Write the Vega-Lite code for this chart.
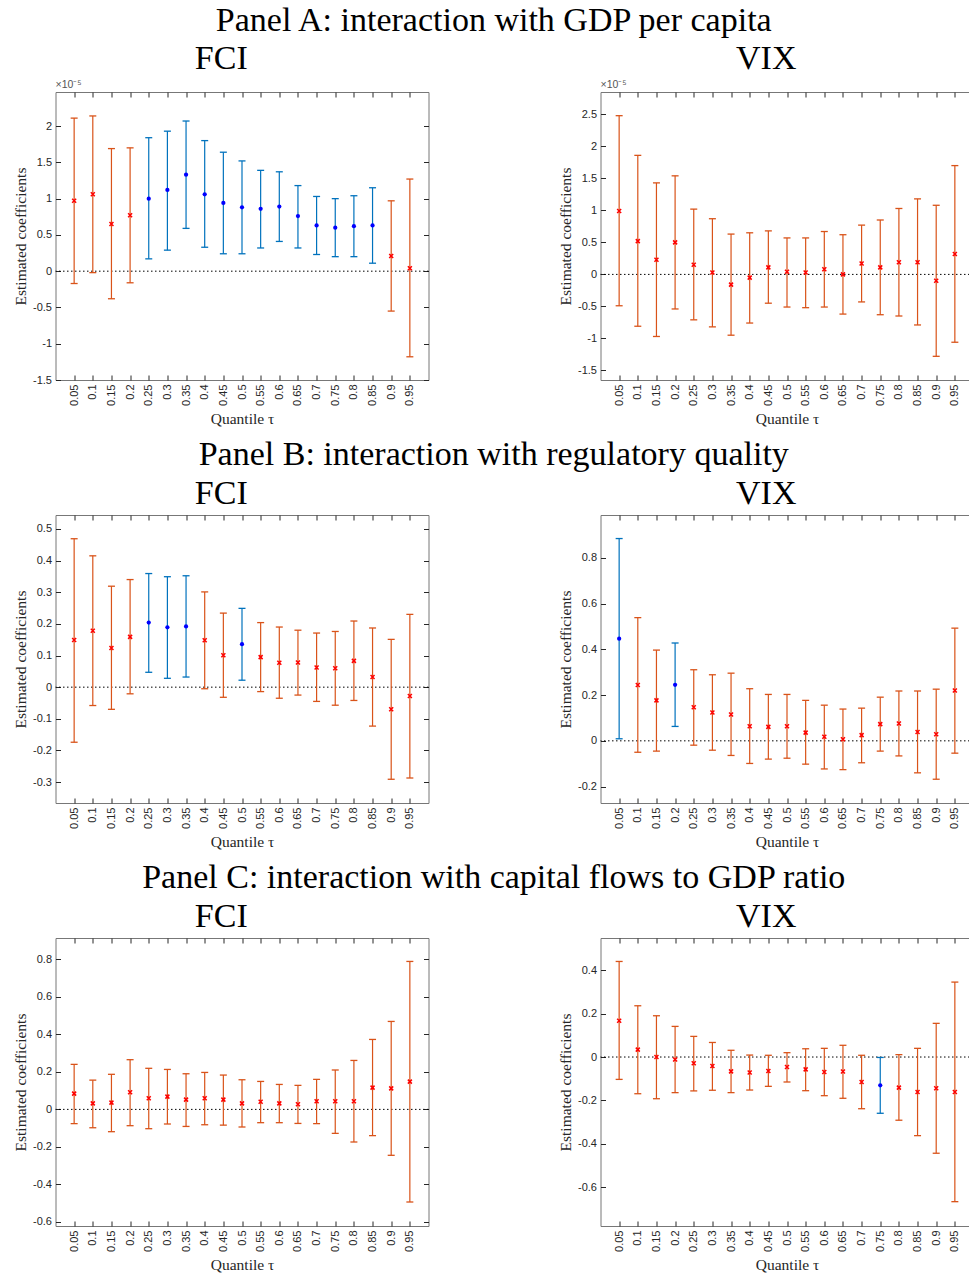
{
"$schema": "https://vega.github.io/schema/vega-lite/v6.json",
"padding": {"left": 12.5, "top": 3, "right": 0, "bottom": 0},
"background": "white",
"config": {
 "font": "Liberation Sans",
 "view": {"stroke": "#777777", "strokeWidth": 1},
 "title": {"font": "Liberation Serif", "fontSize": 34, "fontWeight": "normal", "color": "black", "anchor": "middle", "frame": "bounds", "offset": 4},
 "axis": {"labelFont": "Liberation Sans", "labelFontSize": 11, "labelColor": "#262626", "titleFont": "Liberation Serif", "titleFontSize": 15.5, "titleFontWeight": "normal", "titleColor": "#262626", "tickColor": "#262626", "tickSize": -5, "domain": false, "grid": false, "labelPadding": 9},
 "concat": {"spacing": 10}
},
"datasets": {
 "a_fci": [
  {"q":0.05,"est":0.97,"lo":-0.17,"hi":2.11,"sig":"n"},
  {"q":0.1,"est":1.06,"lo":-0.02,"hi":2.14,"sig":"n"},
  {"q":0.15,"est":0.65,"lo":-0.38,"hi":1.69,"sig":"n"},
  {"q":0.2,"est":0.77,"lo":-0.16,"hi":1.70,"sig":"n"},
  {"q":0.25,"est":1.00,"lo":0.17,"hi":1.84,"sig":"y"},
  {"q":0.3,"est":1.12,"lo":0.29,"hi":1.93,"sig":"y"},
  {"q":0.35,"est":1.33,"lo":0.59,"hi":2.07,"sig":"y"},
  {"q":0.4,"est":1.06,"lo":0.33,"hi":1.80,"sig":"y"},
  {"q":0.45,"est":0.94,"lo":0.24,"hi":1.64,"sig":"y"},
  {"q":0.5,"est":0.88,"lo":0.24,"hi":1.52,"sig":"y"},
  {"q":0.55,"est":0.86,"lo":0.32,"hi":1.39,"sig":"y"},
  {"q":0.6,"est":0.89,"lo":0.41,"hi":1.37,"sig":"y"},
  {"q":0.65,"est":0.76,"lo":0.32,"hi":1.18,"sig":"y"},
  {"q":0.7,"est":0.63,"lo":0.23,"hi":1.03,"sig":"y"},
  {"q":0.75,"est":0.60,"lo":0.20,"hi":1.00,"sig":"y"},
  {"q":0.8,"est":0.62,"lo":0.20,"hi":1.04,"sig":"y"},
  {"q":0.85,"est":0.63,"lo":0.11,"hi":1.15,"sig":"y"},
  {"q":0.9,"est":0.21,"lo":-0.55,"hi":0.97,"sig":"n"},
  {"q":0.95,"est":0.04,"lo":-1.18,"hi":1.27,"sig":"n"}
 ],
 "a_vix": [
  {"q":0.05,"est":0.99,"lo":-0.49,"hi":2.48,"sig":"n"},
  {"q":0.1,"est":0.52,"lo":-0.81,"hi":1.86,"sig":"n"},
  {"q":0.15,"est":0.23,"lo":-0.97,"hi":1.43,"sig":"n"},
  {"q":0.2,"est":0.50,"lo":-0.54,"hi":1.54,"sig":"n"},
  {"q":0.25,"est":0.15,"lo":-0.71,"hi":1.02,"sig":"n"},
  {"q":0.3,"est":0.03,"lo":-0.82,"hi":0.87,"sig":"n"},
  {"q":0.35,"est":-0.16,"lo":-0.95,"hi":0.63,"sig":"n"},
  {"q":0.4,"est":-0.05,"lo":-0.76,"hi":0.65,"sig":"n"},
  {"q":0.45,"est":0.11,"lo":-0.45,"hi":0.68,"sig":"n"},
  {"q":0.5,"est":0.04,"lo":-0.51,"hi":0.57,"sig":"n"},
  {"q":0.55,"est":0.03,"lo":-0.52,"hi":0.57,"sig":"n"},
  {"q":0.6,"est":0.08,"lo":-0.51,"hi":0.67,"sig":"n"},
  {"q":0.65,"est":0.00,"lo":-0.62,"hi":0.62,"sig":"n"},
  {"q":0.7,"est":0.17,"lo":-0.43,"hi":0.77,"sig":"n"},
  {"q":0.75,"est":0.11,"lo":-0.63,"hi":0.85,"sig":"n"},
  {"q":0.8,"est":0.19,"lo":-0.65,"hi":1.03,"sig":"n"},
  {"q":0.85,"est":0.19,"lo":-0.79,"hi":1.18,"sig":"n"},
  {"q":0.9,"est":-0.10,"lo":-1.28,"hi":1.08,"sig":"n"},
  {"q":0.95,"est":0.32,"lo":-1.06,"hi":1.70,"sig":"n"}
 ],
 "b_fci": [
  {"q":0.05,"est":0.149,"lo":-0.174,"hi":0.469,"sig":"n"},
  {"q":0.1,"est":0.178,"lo":-0.058,"hi":0.415,"sig":"n"},
  {"q":0.15,"est":0.124,"lo":-0.070,"hi":0.319,"sig":"n"},
  {"q":0.2,"est":0.159,"lo":-0.021,"hi":0.340,"sig":"n"},
  {"q":0.25,"est":0.204,"lo":0.047,"hi":0.359,"sig":"y"},
  {"q":0.3,"est":0.189,"lo":0.028,"hi":0.349,"sig":"y"},
  {"q":0.35,"est":0.192,"lo":0.032,"hi":0.352,"sig":"y"},
  {"q":0.4,"est":0.148,"lo":-0.005,"hi":0.301,"sig":"n"},
  {"q":0.45,"est":0.101,"lo":-0.032,"hi":0.234,"sig":"n"},
  {"q":0.5,"est":0.136,"lo":0.022,"hi":0.249,"sig":"y"},
  {"q":0.55,"est":0.095,"lo":-0.014,"hi":0.204,"sig":"n"},
  {"q":0.6,"est":0.077,"lo":-0.035,"hi":0.190,"sig":"n"},
  {"q":0.65,"est":0.078,"lo":-0.025,"hi":0.180,"sig":"n"},
  {"q":0.7,"est":0.062,"lo":-0.045,"hi":0.171,"sig":"n"},
  {"q":0.75,"est":0.060,"lo":-0.057,"hi":0.176,"sig":"n"},
  {"q":0.8,"est":0.083,"lo":-0.042,"hi":0.209,"sig":"n"},
  {"q":0.85,"est":0.032,"lo":-0.123,"hi":0.187,"sig":"n"},
  {"q":0.9,"est":-0.070,"lo":-0.291,"hi":0.151,"sig":"n"},
  {"q":0.95,"est":-0.028,"lo":-0.287,"hi":0.230,"sig":"n"}
 ],
 "b_vix": [
  {"q":0.05,"est":0.447,"lo":0.009,"hi":0.885,"sig":"y"},
  {"q":0.1,"est":0.244,"lo":-0.050,"hi":0.539,"sig":"n"},
  {"q":0.15,"est":0.177,"lo":-0.045,"hi":0.397,"sig":"n"},
  {"q":0.2,"est":0.245,"lo":0.063,"hi":0.428,"sig":"y"},
  {"q":0.25,"est":0.147,"lo":-0.019,"hi":0.311,"sig":"n"},
  {"q":0.3,"est":0.124,"lo":-0.041,"hi":0.289,"sig":"n"},
  {"q":0.35,"est":0.115,"lo":-0.064,"hi":0.296,"sig":"n"},
  {"q":0.4,"est":0.064,"lo":-0.099,"hi":0.228,"sig":"n"},
  {"q":0.45,"est":0.061,"lo":-0.080,"hi":0.203,"sig":"n"},
  {"q":0.5,"est":0.064,"lo":-0.076,"hi":0.203,"sig":"n"},
  {"q":0.55,"est":0.036,"lo":-0.102,"hi":0.177,"sig":"n"},
  {"q":0.6,"est":0.018,"lo":-0.123,"hi":0.156,"sig":"n"},
  {"q":0.65,"est":0.007,"lo":-0.126,"hi":0.139,"sig":"n"},
  {"q":0.7,"est":0.025,"lo":-0.096,"hi":0.143,"sig":"n"},
  {"q":0.75,"est":0.073,"lo":-0.045,"hi":0.191,"sig":"n"},
  {"q":0.8,"est":0.076,"lo":-0.066,"hi":0.218,"sig":"n"},
  {"q":0.85,"est":0.039,"lo":-0.140,"hi":0.218,"sig":"n"},
  {"q":0.9,"est":0.029,"lo":-0.168,"hi":0.226,"sig":"n"},
  {"q":0.95,"est":0.220,"lo":-0.054,"hi":0.493,"sig":"n"}
 ],
 "c_fci": [
  {"q":0.05,"est":0.084,"lo":-0.076,"hi":0.240,"sig":"n"},
  {"q":0.1,"est":0.032,"lo":-0.098,"hi":0.156,"sig":"n"},
  {"q":0.15,"est":0.036,"lo":-0.119,"hi":0.187,"sig":"n"},
  {"q":0.2,"est":0.091,"lo":-0.087,"hi":0.265,"sig":"n"},
  {"q":0.25,"est":0.059,"lo":-0.103,"hi":0.219,"sig":"n"},
  {"q":0.3,"est":0.068,"lo":-0.078,"hi":0.213,"sig":"n"},
  {"q":0.35,"est":0.052,"lo":-0.091,"hi":0.190,"sig":"n"},
  {"q":0.4,"est":0.059,"lo":-0.082,"hi":0.197,"sig":"n"},
  {"q":0.45,"est":0.052,"lo":-0.084,"hi":0.183,"sig":"n"},
  {"q":0.5,"est":0.032,"lo":-0.094,"hi":0.158,"sig":"n"},
  {"q":0.55,"est":0.041,"lo":-0.071,"hi":0.149,"sig":"n"},
  {"q":0.6,"est":0.032,"lo":-0.071,"hi":0.133,"sig":"n"},
  {"q":0.65,"est":0.027,"lo":-0.075,"hi":0.128,"sig":"n"},
  {"q":0.7,"est":0.043,"lo":-0.076,"hi":0.160,"sig":"n"},
  {"q":0.75,"est":0.043,"lo":-0.128,"hi":0.210,"sig":"n"},
  {"q":0.8,"est":0.043,"lo":-0.174,"hi":0.261,"sig":"n"},
  {"q":0.85,"est":0.116,"lo":-0.140,"hi":0.373,"sig":"n"},
  {"q":0.9,"est":0.112,"lo":-0.245,"hi":0.469,"sig":"n"},
  {"q":0.95,"est":0.148,"lo":-0.494,"hi":0.789,"sig":"n"}
 ],
 "c_vix": [
  {"q":0.05,"est":0.167,"lo":-0.103,"hi":0.440,"sig":"n"},
  {"q":0.1,"est":0.034,"lo":-0.169,"hi":0.236,"sig":"n"},
  {"q":0.15,"est":0.000,"lo":-0.192,"hi":0.190,"sig":"n"},
  {"q":0.2,"est":-0.011,"lo":-0.164,"hi":0.141,"sig":"n"},
  {"q":0.25,"est":-0.029,"lo":-0.156,"hi":0.095,"sig":"n"},
  {"q":0.3,"est":-0.041,"lo":-0.153,"hi":0.067,"sig":"n"},
  {"q":0.35,"est":-0.066,"lo":-0.164,"hi":0.031,"sig":"n"},
  {"q":0.4,"est":-0.071,"lo":-0.152,"hi":0.009,"sig":"n"},
  {"q":0.45,"est":-0.064,"lo":-0.135,"hi":0.008,"sig":"n"},
  {"q":0.5,"est":-0.046,"lo":-0.115,"hi":0.020,"sig":"n"},
  {"q":0.55,"est":-0.057,"lo":-0.155,"hi":0.038,"sig":"n"},
  {"q":0.6,"est":-0.069,"lo":-0.178,"hi":0.040,"sig":"n"},
  {"q":0.65,"est":-0.067,"lo":-0.190,"hi":0.054,"sig":"n"},
  {"q":0.7,"est":-0.115,"lo":-0.238,"hi":0.008,"sig":"n"},
  {"q":0.75,"est":-0.130,"lo":-0.259,"hi":-0.002,"sig":"y"},
  {"q":0.8,"est":-0.141,"lo":-0.291,"hi":0.011,"sig":"n"},
  {"q":0.85,"est":-0.161,"lo":-0.362,"hi":0.040,"sig":"n"},
  {"q":0.9,"est":-0.144,"lo":-0.443,"hi":0.155,"sig":"n"},
  {"q":0.95,"est":-0.161,"lo":-0.666,"hi":0.345,"sig":"n"}
 ]
},
"vconcat": [
 {"title": {"text": "Panel A: interaction with GDP per capita"},
  "hconcat": [
   {"title": {"text": "FCI"}, "width": 373, "height": 288, "data": {"name": "a_fci"},
    "resolve": {"axis": {"x": "independent", "y": "independent"}},
    "layer": [
     {"data": {"values": [{"z": 0}]}, "mark": {"type": "rule", "color": "#000000", "strokeWidth": 1, "strokeDash": [1.5, 2.5]},
      "encoding": {"y": {"field": "z", "type": "quantitative", "scale": {"domain": [-1.5, 2.47], "nice": false, "zero": false}, "axis": null}}},
     {"mark": {"type": "rule", "strokeWidth": 1.2},
      "encoding": {"x": {"field": "q", "type": "quantitative", "scale": {"domain": [0, 1], "nice": false}, "axis": {"values": [0.05,0.1,0.15,0.2,0.25,0.3,0.35,0.4,0.45,0.5,0.55,0.6,0.65,0.7,0.75,0.8,0.85,0.9,0.95], "labelAngle": 270, "labelPadding": 9, "labelExpr": "format(datum.value, '~g')", "title": "Quantile τ", "titlePadding": 6}},
       "y": {"field": "lo", "type": "quantitative", "scale": {"domain": [-1.5, 2.47], "nice": false, "zero": false}, "axis": {"values": [-1.5,-1,-0.5,0,0.5,1,1.5,2], "labelExpr": "replace(format(datum.value, '~g'), '\u2212', '-')", "title": "Estimated coefficients"}},
       "y2": {"field": "hi"},
       "color": {"condition": {"test": "datum.sig === 'y'", "value": "#0072BD"}, "value": "#D95319"}}},
     {"mark": {"type": "tick", "orient": "horizontal", "size": 7, "thickness": 1.3, "opacity": 1},
      "encoding": {"x": {"field": "q", "type": "quantitative", "scale": {"domain": [0, 1], "nice": false}, "axis": null},
       "y": {"field": "lo", "type": "quantitative", "scale": {"domain": [-1.5, 2.47], "nice": false, "zero": false}, "axis": null},
       "color": {"condition": {"test": "datum.sig === 'y'", "value": "#0072BD"}, "value": "#D95319"}}},
     {"mark": {"type": "tick", "orient": "horizontal", "size": 7, "thickness": 1.3, "opacity": 1},
      "encoding": {"x": {"field": "q", "type": "quantitative", "scale": {"domain": [0, 1], "nice": false}, "axis": {"orient": "top", "values": [0.05,0.1,0.15,0.2,0.25,0.3,0.35,0.4,0.45,0.5,0.55,0.6,0.65,0.7,0.75,0.8,0.85,0.9,0.95], "labels": false, "title": null}},
       "y": {"field": "hi", "type": "quantitative", "scale": {"domain": [-1.5, 2.47], "nice": false, "zero": false}, "axis": {"orient": "right", "values": [-1.5,-1,-0.5,0,0.5,1,1.5,2], "labels": false, "title": null}},
       "color": {"condition": {"test": "datum.sig === 'y'", "value": "#0072BD"}, "value": "#D95319"}}},
     {"transform": [{"filter": "datum.sig === 'n'"}],
      "mark": {"type": "point", "shape": "M-1,-1L1,1M-1,1L1,-1", "size": 16, "filled": false, "stroke": "#FF0000", "strokeWidth": 1.5, "opacity": 1},
      "encoding": {"x": {"field": "q", "type": "quantitative", "scale": {"domain": [0, 1], "nice": false}, "axis": null},
       "y": {"field": "est", "type": "quantitative", "scale": {"domain": [-1.5, 2.47], "nice": false, "zero": false}, "axis": null}}},
     {"transform": [{"filter": "datum.sig === 'y'"}],
      "mark": {"type": "circle", "size": 18, "color": "#0000FF", "opacity": 1},
      "encoding": {"x": {"field": "q", "type": "quantitative", "scale": {"domain": [0, 1], "nice": false}, "axis": null},
       "y": {"field": "est", "type": "quantitative", "scale": {"domain": [-1.5, 2.47], "nice": false, "zero": false}, "axis": null}}},
     {"data": {"values": [{"t": "×10⁻⁵"}]},
      "mark": {"type": "text", "align": "left", "baseline": "bottom", "dy": -2, "fontSize": 10.5, "color": "#555555", "font": "Liberation Sans"},
      "encoding": {"x": {"datum": 0, "type": "quantitative", "scale": {"domain": [0, 1], "nice": false}, "axis": null},
       "y": {"datum": 2.47, "type": "quantitative", "scale": {"domain": [-1.5, 2.47], "nice": false, "zero": false}, "axis": null},
       "text": {"field": "t"}}}
    ]},
   {"title": {"text": "VIX"}, "width": 373, "height": 288, "data": {"name": "a_vix"},
    "resolve": {"axis": {"x": "independent", "y": "independent"}},
    "layer": [
     {"data": {"values": [{"z": 0}]}, "mark": {"type": "rule", "color": "#000000", "strokeWidth": 1, "strokeDash": [1.5, 2.5]},
      "encoding": {"y": {"field": "z", "type": "quantitative", "scale": {"domain": [-1.65, 2.85], "nice": false, "zero": false}, "axis": null}}},
     {"mark": {"type": "rule", "strokeWidth": 1.2},
      "encoding": {"x": {"field": "q", "type": "quantitative", "scale": {"domain": [0, 1], "nice": false}, "axis": {"values": [0.05,0.1,0.15,0.2,0.25,0.3,0.35,0.4,0.45,0.5,0.55,0.6,0.65,0.7,0.75,0.8,0.85,0.9,0.95], "labelAngle": 270, "labelPadding": 9, "labelExpr": "format(datum.value, '~g')", "title": "Quantile τ", "titlePadding": 6}},
       "y": {"field": "lo", "type": "quantitative", "scale": {"domain": [-1.65, 2.85], "nice": false, "zero": false}, "axis": {"values": [-1.5,-1,-0.5,0,0.5,1,1.5,2,2.5], "labelExpr": "replace(format(datum.value, '~g'), '\u2212', '-')", "title": "Estimated coefficients"}},
       "y2": {"field": "hi"},
       "color": {"condition": {"test": "datum.sig === 'y'", "value": "#0072BD"}, "value": "#D95319"}}},
     {"mark": {"type": "tick", "orient": "horizontal", "size": 7, "thickness": 1.3, "opacity": 1},
      "encoding": {"x": {"field": "q", "type": "quantitative", "scale": {"domain": [0, 1], "nice": false}, "axis": null},
       "y": {"field": "lo", "type": "quantitative", "scale": {"domain": [-1.65, 2.85], "nice": false, "zero": false}, "axis": null},
       "color": {"condition": {"test": "datum.sig === 'y'", "value": "#0072BD"}, "value": "#D95319"}}},
     {"mark": {"type": "tick", "orient": "horizontal", "size": 7, "thickness": 1.3, "opacity": 1},
      "encoding": {"x": {"field": "q", "type": "quantitative", "scale": {"domain": [0, 1], "nice": false}, "axis": {"orient": "top", "values": [0.05,0.1,0.15,0.2,0.25,0.3,0.35,0.4,0.45,0.5,0.55,0.6,0.65,0.7,0.75,0.8,0.85,0.9,0.95], "labels": false, "title": null}},
       "y": {"field": "hi", "type": "quantitative", "scale": {"domain": [-1.65, 2.85], "nice": false, "zero": false}, "axis": {"orient": "right", "values": [-1.5,-1,-0.5,0,0.5,1,1.5,2,2.5], "labels": false, "title": null}},
       "color": {"condition": {"test": "datum.sig === 'y'", "value": "#0072BD"}, "value": "#D95319"}}},
     {"transform": [{"filter": "datum.sig === 'n'"}],
      "mark": {"type": "point", "shape": "M-1,-1L1,1M-1,1L1,-1", "size": 16, "filled": false, "stroke": "#FF0000", "strokeWidth": 1.5, "opacity": 1},
      "encoding": {"x": {"field": "q", "type": "quantitative", "scale": {"domain": [0, 1], "nice": false}, "axis": null},
       "y": {"field": "est", "type": "quantitative", "scale": {"domain": [-1.65, 2.85], "nice": false, "zero": false}, "axis": null}}},
     {"transform": [{"filter": "datum.sig === 'y'"}],
      "mark": {"type": "circle", "size": 18, "color": "#0000FF", "opacity": 1},
      "encoding": {"x": {"field": "q", "type": "quantitative", "scale": {"domain": [0, 1], "nice": false}, "axis": null},
       "y": {"field": "est", "type": "quantitative", "scale": {"domain": [-1.65, 2.85], "nice": false, "zero": false}, "axis": null}}},
     {"data": {"values": [{"t": "×10⁻⁵"}]},
      "mark": {"type": "text", "align": "left", "baseline": "bottom", "dy": -2, "fontSize": 10.5, "color": "#555555", "font": "Liberation Sans"},
      "encoding": {"x": {"datum": 0, "type": "quantitative", "scale": {"domain": [0, 1], "nice": false}, "axis": null},
       "y": {"datum": 2.85, "type": "quantitative", "scale": {"domain": [-1.65, 2.85], "nice": false, "zero": false}, "axis": null},
       "text": {"field": "t"}}}
    ]}
  ], "spacing": 128},
 {"title": {"text": "Panel B: interaction with regulatory quality"},
  "hconcat": [
   {"title": {"text": "FCI"}, "width": 373, "height": 288, "data": {"name": "b_fci"},
    "resolve": {"axis": {"x": "independent", "y": "independent"}},
    "layer": [
     {"data": {"values": [{"z": 0}]}, "mark": {"type": "rule", "color": "#000000", "strokeWidth": 1, "strokeDash": [1.5, 2.5]},
      "encoding": {"y": {"field": "z", "type": "quantitative", "scale": {"domain": [-0.366, 0.544], "nice": false, "zero": false}, "axis": null}}},
     {"mark": {"type": "rule", "strokeWidth": 1.2},
      "encoding": {"x": {"field": "q", "type": "quantitative", "scale": {"domain": [0, 1], "nice": false}, "axis": {"values": [0.05,0.1,0.15,0.2,0.25,0.3,0.35,0.4,0.45,0.5,0.55,0.6,0.65,0.7,0.75,0.8,0.85,0.9,0.95], "labelAngle": 270, "labelPadding": 9, "labelExpr": "format(datum.value, '~g')", "title": "Quantile τ", "titlePadding": 6}},
       "y": {"field": "lo", "type": "quantitative", "scale": {"domain": [-0.366, 0.544], "nice": false, "zero": false}, "axis": {"values": [-0.3,-0.2,-0.1,0,0.1,0.2,0.3,0.4,0.5], "labelExpr": "replace(format(datum.value, '~g'), '\u2212', '-')", "title": "Estimated coefficients"}},
       "y2": {"field": "hi"},
       "color": {"condition": {"test": "datum.sig === 'y'", "value": "#0072BD"}, "value": "#D95319"}}},
     {"mark": {"type": "tick", "orient": "horizontal", "size": 7, "thickness": 1.3, "opacity": 1},
      "encoding": {"x": {"field": "q", "type": "quantitative", "scale": {"domain": [0, 1], "nice": false}, "axis": null},
       "y": {"field": "lo", "type": "quantitative", "scale": {"domain": [-0.366, 0.544], "nice": false, "zero": false}, "axis": null},
       "color": {"condition": {"test": "datum.sig === 'y'", "value": "#0072BD"}, "value": "#D95319"}}},
     {"mark": {"type": "tick", "orient": "horizontal", "size": 7, "thickness": 1.3, "opacity": 1},
      "encoding": {"x": {"field": "q", "type": "quantitative", "scale": {"domain": [0, 1], "nice": false}, "axis": {"orient": "top", "values": [0.05,0.1,0.15,0.2,0.25,0.3,0.35,0.4,0.45,0.5,0.55,0.6,0.65,0.7,0.75,0.8,0.85,0.9,0.95], "labels": false, "title": null}},
       "y": {"field": "hi", "type": "quantitative", "scale": {"domain": [-0.366, 0.544], "nice": false, "zero": false}, "axis": {"orient": "right", "values": [-0.3,-0.2,-0.1,0,0.1,0.2,0.3,0.4,0.5], "labels": false, "title": null}},
       "color": {"condition": {"test": "datum.sig === 'y'", "value": "#0072BD"}, "value": "#D95319"}}},
     {"transform": [{"filter": "datum.sig === 'n'"}],
      "mark": {"type": "point", "shape": "M-1,-1L1,1M-1,1L1,-1", "size": 16, "filled": false, "stroke": "#FF0000", "strokeWidth": 1.5, "opacity": 1},
      "encoding": {"x": {"field": "q", "type": "quantitative", "scale": {"domain": [0, 1], "nice": false}, "axis": null},
       "y": {"field": "est", "type": "quantitative", "scale": {"domain": [-0.366, 0.544], "nice": false, "zero": false}, "axis": null}}},
     {"transform": [{"filter": "datum.sig === 'y'"}],
      "mark": {"type": "circle", "size": 18, "color": "#0000FF", "opacity": 1},
      "encoding": {"x": {"field": "q", "type": "quantitative", "scale": {"domain": [0, 1], "nice": false}, "axis": null},
       "y": {"field": "est", "type": "quantitative", "scale": {"domain": [-0.366, 0.544], "nice": false, "zero": false}, "axis": null}}}
    ]},
   {"title": {"text": "VIX"}, "width": 373, "height": 288, "data": {"name": "b_vix"},
    "resolve": {"axis": {"x": "independent", "y": "independent"}},
    "layer": [
     {"data": {"values": [{"z": 0}]}, "mark": {"type": "rule", "color": "#000000", "strokeWidth": 1, "strokeDash": [1.5, 2.5]},
      "encoding": {"y": {"field": "z", "type": "quantitative", "scale": {"domain": [-0.272, 0.988], "nice": false, "zero": false}, "axis": null}}},
     {"mark": {"type": "rule", "strokeWidth": 1.2},
      "encoding": {"x": {"field": "q", "type": "quantitative", "scale": {"domain": [0, 1], "nice": false}, "axis": {"values": [0.05,0.1,0.15,0.2,0.25,0.3,0.35,0.4,0.45,0.5,0.55,0.6,0.65,0.7,0.75,0.8,0.85,0.9,0.95], "labelAngle": 270, "labelPadding": 9, "labelExpr": "format(datum.value, '~g')", "title": "Quantile τ", "titlePadding": 6}},
       "y": {"field": "lo", "type": "quantitative", "scale": {"domain": [-0.272, 0.988], "nice": false, "zero": false}, "axis": {"values": [-0.2,0,0.2,0.4,0.6,0.8], "labelExpr": "replace(format(datum.value, '~g'), '\u2212', '-')", "title": "Estimated coefficients"}},
       "y2": {"field": "hi"},
       "color": {"condition": {"test": "datum.sig === 'y'", "value": "#0072BD"}, "value": "#D95319"}}},
     {"mark": {"type": "tick", "orient": "horizontal", "size": 7, "thickness": 1.3, "opacity": 1},
      "encoding": {"x": {"field": "q", "type": "quantitative", "scale": {"domain": [0, 1], "nice": false}, "axis": null},
       "y": {"field": "lo", "type": "quantitative", "scale": {"domain": [-0.272, 0.988], "nice": false, "zero": false}, "axis": null},
       "color": {"condition": {"test": "datum.sig === 'y'", "value": "#0072BD"}, "value": "#D95319"}}},
     {"mark": {"type": "tick", "orient": "horizontal", "size": 7, "thickness": 1.3, "opacity": 1},
      "encoding": {"x": {"field": "q", "type": "quantitative", "scale": {"domain": [0, 1], "nice": false}, "axis": {"orient": "top", "values": [0.05,0.1,0.15,0.2,0.25,0.3,0.35,0.4,0.45,0.5,0.55,0.6,0.65,0.7,0.75,0.8,0.85,0.9,0.95], "labels": false, "title": null}},
       "y": {"field": "hi", "type": "quantitative", "scale": {"domain": [-0.272, 0.988], "nice": false, "zero": false}, "axis": {"orient": "right", "values": [-0.2,0,0.2,0.4,0.6,0.8], "labels": false, "title": null}},
       "color": {"condition": {"test": "datum.sig === 'y'", "value": "#0072BD"}, "value": "#D95319"}}},
     {"transform": [{"filter": "datum.sig === 'n'"}],
      "mark": {"type": "point", "shape": "M-1,-1L1,1M-1,1L1,-1", "size": 16, "filled": false, "stroke": "#FF0000", "strokeWidth": 1.5, "opacity": 1},
      "encoding": {"x": {"field": "q", "type": "quantitative", "scale": {"domain": [0, 1], "nice": false}, "axis": null},
       "y": {"field": "est", "type": "quantitative", "scale": {"domain": [-0.272, 0.988], "nice": false, "zero": false}, "axis": null}}},
     {"transform": [{"filter": "datum.sig === 'y'"}],
      "mark": {"type": "circle", "size": 18, "color": "#0000FF", "opacity": 1},
      "encoding": {"x": {"field": "q", "type": "quantitative", "scale": {"domain": [0, 1], "nice": false}, "axis": null},
       "y": {"field": "est", "type": "quantitative", "scale": {"domain": [-0.272, 0.988], "nice": false, "zero": false}, "axis": null}}}
    ]}
  ], "spacing": 128},
 {"title": {"text": "Panel C: interaction with capital flows to GDP ratio"},
  "hconcat": [
   {"title": {"text": "FCI"}, "width": 373, "height": 288, "data": {"name": "c_fci"},
    "resolve": {"axis": {"x": "independent", "y": "independent"}},
    "layer": [
     {"data": {"values": [{"z": 0}]}, "mark": {"type": "rule", "color": "#000000", "strokeWidth": 1, "strokeDash": [1.5, 2.5]},
      "encoding": {"y": {"field": "z", "type": "quantitative", "scale": {"domain": [-0.622, 0.914], "nice": false, "zero": false}, "axis": null}}},
     {"mark": {"type": "rule", "strokeWidth": 1.2},
      "encoding": {"x": {"field": "q", "type": "quantitative", "scale": {"domain": [0, 1], "nice": false}, "axis": {"values": [0.05,0.1,0.15,0.2,0.25,0.3,0.35,0.4,0.45,0.5,0.55,0.6,0.65,0.7,0.75,0.8,0.85,0.9,0.95], "labelAngle": 270, "labelPadding": 9, "labelExpr": "format(datum.value, '~g')", "title": "Quantile τ", "titlePadding": 6}},
       "y": {"field": "lo", "type": "quantitative", "scale": {"domain": [-0.622, 0.914], "nice": false, "zero": false}, "axis": {"values": [-0.6,-0.4,-0.2,0,0.2,0.4,0.6,0.8], "labelExpr": "replace(format(datum.value, '~g'), '\u2212', '-')", "title": "Estimated coefficients"}},
       "y2": {"field": "hi"},
       "color": {"condition": {"test": "datum.sig === 'y'", "value": "#0072BD"}, "value": "#D95319"}}},
     {"mark": {"type": "tick", "orient": "horizontal", "size": 7, "thickness": 1.3, "opacity": 1},
      "encoding": {"x": {"field": "q", "type": "quantitative", "scale": {"domain": [0, 1], "nice": false}, "axis": null},
       "y": {"field": "lo", "type": "quantitative", "scale": {"domain": [-0.622, 0.914], "nice": false, "zero": false}, "axis": null},
       "color": {"condition": {"test": "datum.sig === 'y'", "value": "#0072BD"}, "value": "#D95319"}}},
     {"mark": {"type": "tick", "orient": "horizontal", "size": 7, "thickness": 1.3, "opacity": 1},
      "encoding": {"x": {"field": "q", "type": "quantitative", "scale": {"domain": [0, 1], "nice": false}, "axis": {"orient": "top", "values": [0.05,0.1,0.15,0.2,0.25,0.3,0.35,0.4,0.45,0.5,0.55,0.6,0.65,0.7,0.75,0.8,0.85,0.9,0.95], "labels": false, "title": null}},
       "y": {"field": "hi", "type": "quantitative", "scale": {"domain": [-0.622, 0.914], "nice": false, "zero": false}, "axis": {"orient": "right", "values": [-0.6,-0.4,-0.2,0,0.2,0.4,0.6,0.8], "labels": false, "title": null}},
       "color": {"condition": {"test": "datum.sig === 'y'", "value": "#0072BD"}, "value": "#D95319"}}},
     {"transform": [{"filter": "datum.sig === 'n'"}],
      "mark": {"type": "point", "shape": "M-1,-1L1,1M-1,1L1,-1", "size": 16, "filled": false, "stroke": "#FF0000", "strokeWidth": 1.5, "opacity": 1},
      "encoding": {"x": {"field": "q", "type": "quantitative", "scale": {"domain": [0, 1], "nice": false}, "axis": null},
       "y": {"field": "est", "type": "quantitative", "scale": {"domain": [-0.622, 0.914], "nice": false, "zero": false}, "axis": null}}},
     {"transform": [{"filter": "datum.sig === 'y'"}],
      "mark": {"type": "circle", "size": 18, "color": "#0000FF", "opacity": 1},
      "encoding": {"x": {"field": "q", "type": "quantitative", "scale": {"domain": [0, 1], "nice": false}, "axis": null},
       "y": {"field": "est", "type": "quantitative", "scale": {"domain": [-0.622, 0.914], "nice": false, "zero": false}, "axis": null}}}
    ]},
   {"title": {"text": "VIX"}, "width": 373, "height": 288, "data": {"name": "c_vix"},
    "resolve": {"axis": {"x": "independent", "y": "independent"}},
    "layer": [
     {"data": {"values": [{"z": 0}]}, "mark": {"type": "rule", "color": "#000000", "strokeWidth": 1, "strokeDash": [1.5, 2.5]},
      "encoding": {"y": {"field": "z", "type": "quantitative", "scale": {"domain": [-0.778, 0.548], "nice": false, "zero": false}, "axis": null}}},
     {"mark": {"type": "rule", "strokeWidth": 1.2},
      "encoding": {"x": {"field": "q", "type": "quantitative", "scale": {"domain": [0, 1], "nice": false}, "axis": {"values": [0.05,0.1,0.15,0.2,0.25,0.3,0.35,0.4,0.45,0.5,0.55,0.6,0.65,0.7,0.75,0.8,0.85,0.9,0.95], "labelAngle": 270, "labelPadding": 9, "labelExpr": "format(datum.value, '~g')", "title": "Quantile τ", "titlePadding": 6}},
       "y": {"field": "lo", "type": "quantitative", "scale": {"domain": [-0.778, 0.548], "nice": false, "zero": false}, "axis": {"values": [-0.6,-0.4,-0.2,0,0.2,0.4], "labelExpr": "replace(format(datum.value, '~g'), '\u2212', '-')", "title": "Estimated coefficients"}},
       "y2": {"field": "hi"},
       "color": {"condition": {"test": "datum.sig === 'y'", "value": "#0072BD"}, "value": "#D95319"}}},
     {"mark": {"type": "tick", "orient": "horizontal", "size": 7, "thickness": 1.3, "opacity": 1},
      "encoding": {"x": {"field": "q", "type": "quantitative", "scale": {"domain": [0, 1], "nice": false}, "axis": null},
       "y": {"field": "lo", "type": "quantitative", "scale": {"domain": [-0.778, 0.548], "nice": false, "zero": false}, "axis": null},
       "color": {"condition": {"test": "datum.sig === 'y'", "value": "#0072BD"}, "value": "#D95319"}}},
     {"mark": {"type": "tick", "orient": "horizontal", "size": 7, "thickness": 1.3, "opacity": 1},
      "encoding": {"x": {"field": "q", "type": "quantitative", "scale": {"domain": [0, 1], "nice": false}, "axis": {"orient": "top", "values": [0.05,0.1,0.15,0.2,0.25,0.3,0.35,0.4,0.45,0.5,0.55,0.6,0.65,0.7,0.75,0.8,0.85,0.9,0.95], "labels": false, "title": null}},
       "y": {"field": "hi", "type": "quantitative", "scale": {"domain": [-0.778, 0.548], "nice": false, "zero": false}, "axis": {"orient": "right", "values": [-0.6,-0.4,-0.2,0,0.2,0.4], "labels": false, "title": null}},
       "color": {"condition": {"test": "datum.sig === 'y'", "value": "#0072BD"}, "value": "#D95319"}}},
     {"transform": [{"filter": "datum.sig === 'n'"}],
      "mark": {"type": "point", "shape": "M-1,-1L1,1M-1,1L1,-1", "size": 16, "filled": false, "stroke": "#FF0000", "strokeWidth": 1.5, "opacity": 1},
      "encoding": {"x": {"field": "q", "type": "quantitative", "scale": {"domain": [0, 1], "nice": false}, "axis": null},
       "y": {"field": "est", "type": "quantitative", "scale": {"domain": [-0.778, 0.548], "nice": false, "zero": false}, "axis": null}}},
     {"transform": [{"filter": "datum.sig === 'y'"}],
      "mark": {"type": "circle", "size": 18, "color": "#0000FF", "opacity": 1},
      "encoding": {"x": {"field": "q", "type": "quantitative", "scale": {"domain": [0, 1], "nice": false}, "axis": null},
       "y": {"field": "est", "type": "quantitative", "scale": {"domain": [-0.778, 0.548], "nice": false, "zero": false}, "axis": null}}}
    ]}
  ], "spacing": 128}
]
}
